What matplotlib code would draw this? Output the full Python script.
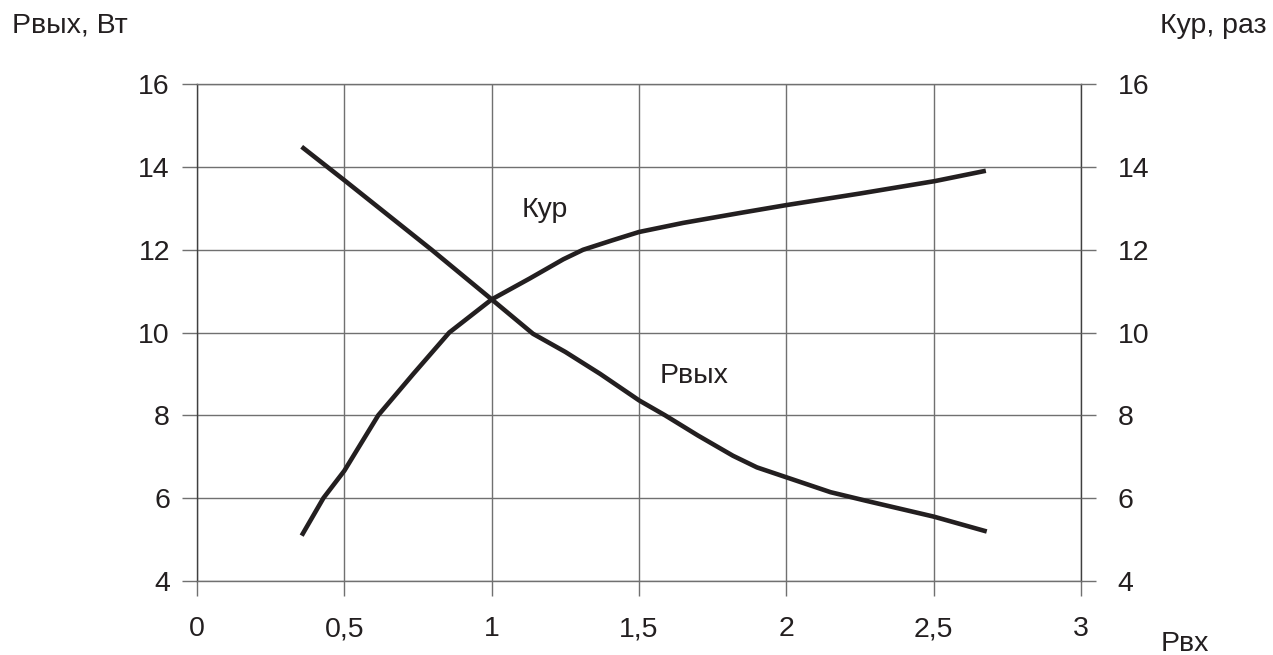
import matplotlib
matplotlib.use("Agg")
import matplotlib.pyplot as plt
import numpy as np

# Pвых, Вт vs Pвх
p_in_out = [0.355, 0.5, 0.796, 1.0, 1.14, 1.25, 1.368, 1.5, 1.588, 1.7, 1.819,
            1.9, 2.0, 2.15, 2.272, 2.5, 2.68]
p_out = [14.49, 13.68, 12.0, 10.8, 9.97, 9.53, 9.0, 8.36, 8.0, 7.51, 7.02,
         6.74, 6.5, 6.14, 5.93, 5.55, 5.19]

# Кур, раз vs Pвх
p_in_k = [0.355, 0.429, 0.5, 0.542, 0.615, 0.734, 0.856, 1.0, 1.13, 1.243,
          1.31, 1.41, 1.5, 1.65, 1.843, 2.0, 2.25, 2.504, 2.677]
k_gain = [5.09, 6.0, 6.66, 7.15, 8.0, 9.0, 10.0, 10.8, 11.31, 11.77,
          12.0, 12.23, 12.43, 12.65, 12.89, 13.08, 13.36, 13.66, 13.91]

x_ticks = [0, 0.5, 1, 1.5, 2, 2.5, 3]
x_labels = ["0", "0,5", "1", "1,5", "2", "2,5", "3"]
y_ticks = [4, 6, 8, 10, 12, 14, 16]

plt.rcParams['font.family'] = ['Liberation Sans', 'DejaVu Sans']
fs = 20.5
line_c = '#231f20'
grid_c = '#707070'

fig = plt.figure(figsize=(12.73, 6.55), dpi=100)
ax = fig.add_axes([0.1548, 0.1134, 0.8492 - 0.1548, 0.8713 - 0.1134])

ax.plot(p_in_out, p_out, color=line_c, lw=3.3, solid_capstyle='butt',
        solid_joinstyle='round', zorder=3)
ax.plot(p_in_k, k_gain, color=line_c, lw=3.3, solid_capstyle='butt',
        solid_joinstyle='round', zorder=3)

ax.set_xlim(0, 3)
ax.set_ylim(4, 16)
ax.set_xticks(x_ticks)
ax.set_xticklabels(x_labels)
ax.set_yticks(y_ticks)
ax.grid(True, color=grid_c, lw=1.0)
ax.tick_params(axis='x', direction='out', length=10.5, width=1.0, color=grid_c,
               labelsize=fs, pad=15, labelcolor='#231f20')
ax.tick_params(axis='y', direction='out', length=10.5, width=1.0, color=grid_c,
               labelsize=fs, pad=9, labelcolor='#231f20')
for s in ax.spines.values():
    s.set_color(grid_c)
    s.set_linewidth(1.0)
ax.spines['left'].set_color('#404040')
ax.spines['right'].set_color('#404040')

ax2 = ax.twinx()
ax2.set_ylim(4, 16)
ax2.set_yticks(y_ticks)
ax2.tick_params(axis='y', direction='out', length=10.5, width=1.0, color=grid_c,
                labelsize=fs, pad=16, labelcolor='#231f20')
for s in ax2.spines.values():
    s.set_visible(False)

ax.text(1.1, 12.95, "Кур", fontsize=fs, color=line_c, ha='left', va='center')
ax.text(1.57, 8.95, "Pвых", fontsize=fs, color=line_c, ha='left', va='center')

fig.text(12 / 1273, 1 - 26 / 655, "Pвых, Вт", fontsize=fs, color=line_c,
         ha='left', va='center')
fig.text(1267 / 1273, 1 - 26 / 655, "Кур, раз", fontsize=fs, color=line_c,
         ha='right', va='center')
fig.text(1161 / 1273, 1 - 644 / 655, "Pвх", fontsize=fs, color=line_c,
         ha='left', va='center')

fig.savefig("out.png", dpi=100, facecolor='white')
